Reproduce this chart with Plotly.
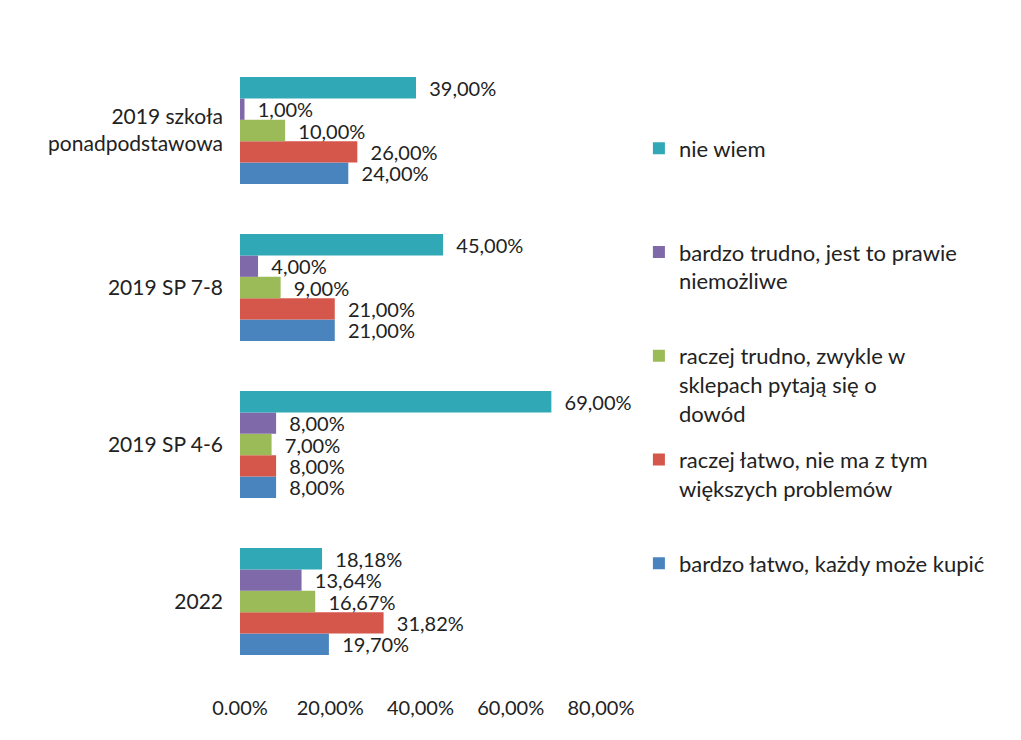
import plotly.graph_objects as go

categories = ["2022", "2019 SP 4-6", "2019 SP 7-8", "2019 szkoła<br>ponadpodstawowa"]

series_names = [
    "bardzo łatwo, każdy może kupić",
    "raczej łatwo, nie ma z tym<br>większych problemów<br> ",
    "raczej trudno, zwykle w<br>sklepach pytają się o<br>dowód",
    "bardzo trudno, jest to prawie<br>niemożliwe<br> ",
    "nie wiem<br> <br> ",
]
legend_ranks = [5, 4, 3, 2, 1]
bardzo_latwo = [19.70, 8, 21, 24]
raczej_latwo = [31.82, 8, 21, 26]
raczej_trudno = [16.67, 7, 9, 10]
bardzo_trudno = [13.64, 8, 4, 1]
nie_wiem = [18.18, 69, 45, 39]
series_values = [bardzo_latwo, raczej_latwo, raczej_trudno, bardzo_trudno, nie_wiem]
colors = ["#4A84BE", "#D5574B", "#9BBB59", "#7F69A8", "#31A8B6"]

tick_vals = [0, 20, 40, 60, 80]
tick_text = ["0.00%", "20,00%", "40,00%", "60,00%", "80,00%"]

FONT = "Lato, 'Open Sans', sans-serif"

fig = go.Figure()
for name, vals, col, rank in zip(series_names, series_values, colors, legend_ranks):
    fig.add_trace(go.Bar(
        y=categories, x=vals, orientation="h", name=name,
        legendgroup=name, legendrank=rank,
        marker=dict(color=col, line=dict(width=0)),
        text=["\u00a0\u00a0" + f"{v:.2f}%".replace(".", ",") for v in vals],
        textposition="outside", cliponaxis=False, constraintext="none",
        textfont=dict(size=20, color="#222222", family=FONT),
    ))

fig.update_layout(
    width=1021, height=740,
    barmode="group", bargap=0.32, bargroupgap=0,
    paper_bgcolor="white", plot_bgcolor="white",
    margin=dict(l=232, r=428, t=44, b=68),
    font=dict(family=FONT, size=21, color="#222222"),
    xaxis=dict(range=[0, 80], tickvals=tick_vals, ticktext=tick_text,
               showgrid=False, zeroline=False, showline=False,
               ticklabelstandoff=14, tickfont=dict(size=20)),
    yaxis=dict(showgrid=False, zeroline=False, showline=False,
               ticklabelstandoff=16, tickfont=dict(size=21)),
    legend=dict(x=1.105, y=0.880, xanchor="left", yanchor="top",
                traceorder="grouped", tracegroupgap=15,
                valign="top", font=dict(size=22),
                bgcolor="rgba(0,0,0,0)", itemwidth=30),
    showlegend=True,
)

fig.write_html("out.html")
